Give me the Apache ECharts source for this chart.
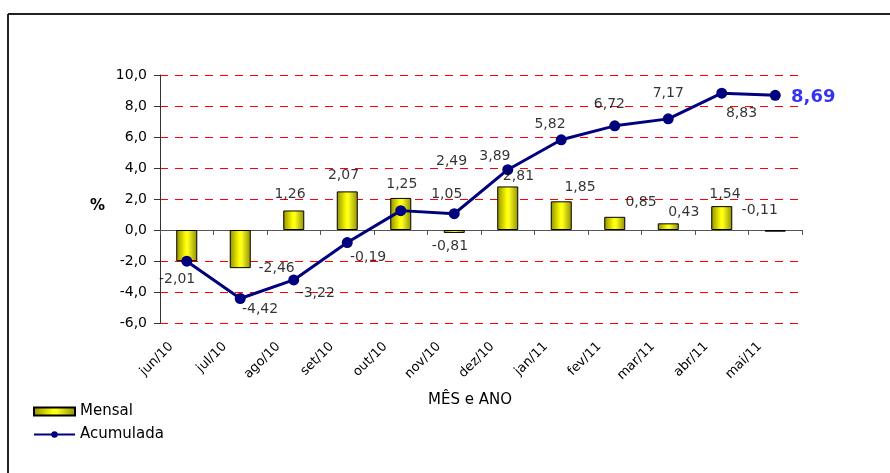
<!DOCTYPE html>
<html><head><meta charset="utf-8">
<script src="https://cdn.jsdelivr.net/npm/echarts@6/dist/echarts.min.js"></script>
<style>html,body{margin:0;padding:0;background:#fff}#c{width:890px;height:473px}</style>
</head><body><div id="c"></div>
<script>
const categories = ['jun/10','jul/10','ago/10','set/10','out/10','nov/10','dez/10','jan/11','fev/11','mar/11','abr/11','mai/11'];
const mensal = [-2.01, -2.46, 1.26, 2.49, 2.07, -0.19, 2.81, 1.85, 0.85, 0.43, 1.54, -0.11];
const acumulada = [-2.01, -4.42, -3.22, -0.81, 1.25, 1.05, 3.89, 5.82, 6.72, 7.17, 8.83, 8.69];
const yTicks = [-6, -4, -2, 0, 2, 4, 6, 8, 10];
// data labels as printed in the original chart: text, x (category units), y (value units)
const labelTexts = ['-2,01','-2,46','-4,42','-3,22','-0,19','1,26','2,07','1,25','1,05','-0,81','2,49','3,89','2,81','5,82','1,85','6,72','0,85','7,17','0,43','8,83','1,54','-0,11'];
const labelX = [0.32, 2.18, 1.87, 2.93, 3.89, 2.43, 3.43, 4.52, 5.36, 5.42, 5.45, 6.26, 6.70, 7.29, 7.85, 8.40, 8.99, 9.50, 9.79, 10.87, 10.56, 11.21];
const labelY = [-3.16, -2.46, -5.13, -4.06, -1.77, 2.29, 3.50, 2.93, 2.29, -1.07, 4.42, 4.74, 3.46, 6.84, 2.72, 8.12, 1.76, 8.81, 1.12, 7.53, 2.29, 1.28];
const lastLabel = {text: '8,69', x: 12.21, y: 8.59};

const fmt = v => v.toFixed(1).replace('.', ',');
const chart = echarts.init(document.getElementById('c'));
const FONT = '"DejaVu Sans", "Liberation Sans", Arial, sans-serif';
const barGrad = new echarts.graphic.LinearGradient(0, 0, 1, 0, [
  {offset: 0, color: '#8f8f00'}, {offset: 0.45, color: '#ffff00'}, {offset: 0.55, color: '#ffff20'}, {offset: 1, color: '#8f8f00'}
]);
chart.setOption({
  animation: false,
  backgroundColor: '#fff',
  textStyle: {fontFamily: FONT},
  grid: {left: 160, right: 88, top: 75, bottom: 150, containLabel: false, outerBoundsMode: 'none'},
  legend: {
    orient: 'vertical', left: 33, top: 404, padding: 0, itemWidth: 41, itemHeight: 8, itemGap: 8,
    textStyle: {fontFamily: FONT, fontSize: 15, color: '#000'},
    data: [{name: 'Mensal', icon: 'rect'}, {name: 'Acumulada'}]
  },
  xAxis: [{
    type: 'category', data: categories, boundaryGap: true,
    axisLine: {onZero: true, lineStyle: {color: '#555', width: 1}},
    axisTick: {show: true, length: 5, lineStyle: {color: '#555'}},
    axisLabel: {rotate: 45, fontSize: 13, color: '#000', margin: 6, fontFamily: FONT, interval: 0, padding: [0, 22, 0, 0]},
    name: 'MÊS e ANO', nameLocation: 'middle', nameGap: 70,
    nameTextStyle: {fontSize: 15, color: '#000', fontFamily: FONT, padding: [0, 22, 0, 0]}
  }, {
    type: 'value', min: 0, max: 12, show: false
  }],
  yAxis: {
    type: 'value', min: -6, max: 10, interval: 2,
    axisLine: {show: true, lineStyle: {color: '#333'}},
    axisTick: {show: true, length: 6, lineStyle: {color: '#333'}},
    axisLabel: {formatter: fmt, fontSize: 14, color: '#000', margin: 13, fontFamily: FONT},
    splitLine: {show: true, lineStyle: {color: '#ff0000', type: [8, 7], width: 1}},
    name: '%', nameLocation: 'middle', nameGap: 55, nameRotate: 0,
    nameTextStyle: {fontSize: 15, fontWeight: 'bold', color: '#000', fontFamily: FONT, verticalAlign: 'top'}
  },
  series: [{
    name: 'Mensal', type: 'bar', data: mensal, barWidth: 21,
    itemStyle: {color: barGrad, borderColor: '#000', borderWidth: 1}
  }, {
    name: 'Acumulada', type: 'line', data: acumulada, symbol: 'circle', symbolSize: 11,
    lineStyle: {color: '#00007f', width: 3}, itemStyle: {color: '#00007f'}, z: 5
  }, {
    name: 'labels', type: 'scatter', xAxisIndex: 1, symbolSize: 0, clip: false, silent: true, z: 6,
    data: labelTexts.map((t, i) => ({value: [labelX[i], labelY[i]], name: t})),
    label: {show: true, position: 'inside', formatter: p => p.name, fontSize: 14, color: '#000', textBorderWidth: 0, fontFamily: FONT}
  }, {
    name: 'last', type: 'scatter', xAxisIndex: 1, symbolSize: 0, clip: false, silent: true, z: 6,
    data: [{value: [lastLabel.x, lastLabel.y], name: lastLabel.text}],
    label: {show: true, position: 'inside', formatter: p => p.name, fontSize: 18, fontWeight: 'bold', color: '#0000ee', textBorderWidth: 0, fontFamily: FONT}
  }],
  graphic: [
    {type: 'line', shape: {x1: 8, y1: 14, x2: 890, y2: 14}, style: {stroke: '#222', lineWidth: 2}},
    {type: 'line', shape: {x1: 8, y1: 14, x2: 8, y2: 473}, style: {stroke: '#222', lineWidth: 2}}
  ]
});
</script></body></html>
